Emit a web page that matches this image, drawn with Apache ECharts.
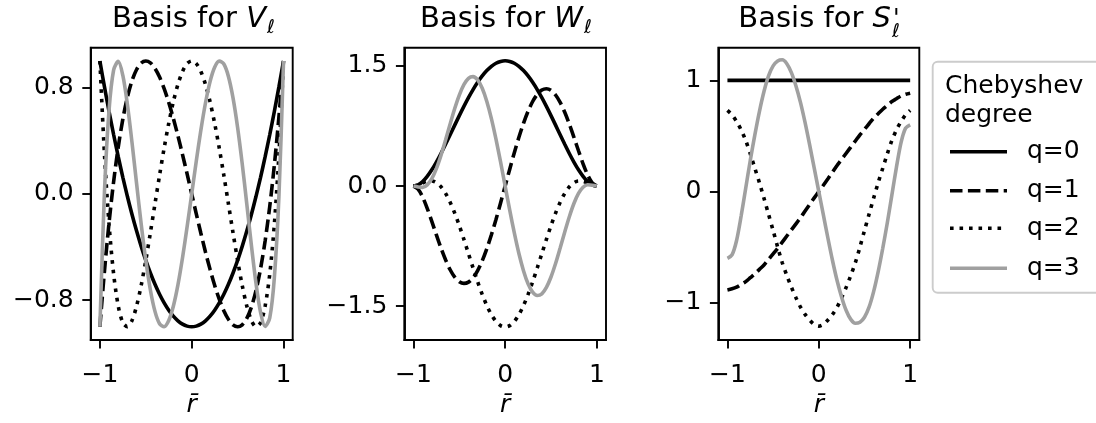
<!DOCTYPE html>
<html>
<head>
<meta charset="utf-8">
<script src="https://cdn.jsdelivr.net/npm/echarts@6/dist/echarts.min.js"></script>
<style>
  html, body { margin: 0; padding: 0; background: #fff; }
  #chart { width: 1096px; height: 423px; }
</style>
</head>
<body>
<div id="chart"></div>
<script>
// radial coordinate samples
const r = [-1, -0.95, -0.9, -0.85, -0.8, -0.75, -0.7, -0.65, -0.6, -0.55, -0.5, -0.45, -0.4, -0.35, -0.3, -0.25, -0.2, -0.15, -0.1, -0.05,
  0, 0.05, 0.1, 0.15, 0.2, 0.25, 0.3, 0.35, 0.4, 0.45, 0.5, 0.55, 0.6, 0.65, 0.7, 0.75, 0.8, 0.85, 0.9, 0.95, 1];

// Basis for V
const v0 = [1, 0.805, 0.62, 0.445, 0.28, 0.125, -0.02, -0.155, -0.28, -0.395, -0.5, -0.595, -0.68, -0.755, -0.82, -0.875, -0.92, -0.955, -0.98, -0.995,
  -1, -0.995, -0.98, -0.955, -0.92, -0.875, -0.82, -0.755, -0.68, -0.595, -0.5, -0.395, -0.28, -0.155, -0.02, 0.125, 0.28, 0.445, 0.62, 0.805, 1];
const v1 = [-1, -0.58, -0.216, 0.094, 0.352, 0.563, 0.728, 0.852, 0.936, 0.985, 1, 0.986, 0.944, 0.879, 0.792, 0.688, 0.568, 0.437, 0.296, 0.15,
  0, -0.15, -0.296, -0.437, -0.568, -0.688, -0.792, -0.879, -0.944, -0.986, -1, -0.985, -0.936, -0.852, -0.728, -0.563, -0.352, -0.094, 0.216, 0.58, 1];
const v2 = [1, 0.296, -0.231, -0.604, -0.843, -0.969, -0.999, -0.952, -0.843, -0.688, -0.5, -0.292, -0.075, 0.14, 0.345, 0.531, 0.693, 0.824, 0.921, 0.98,
  1, 0.98, 0.921, 0.824, 0.693, 0.531, 0.345, 0.14, -0.075, -0.292, -0.5, -0.688, -0.843, -0.952, -0.999, -0.969, -0.843, -0.604, -0.231, 0.296, 1];
const v3 = [-1, 0.017, 0.632, 0.933, 0.997, 0.891, 0.671, 0.386, 0.076, -0.228, -0.5, -0.723, -0.884, -0.977, -0.999, -0.953, -0.845, -0.684, -0.48, -0.248,
  0, 0.248, 0.48, 0.684, 0.845, 0.953, 0.999, 0.977, 0.884, 0.723, 0.5, 0.228, -0.076, -0.386, -0.671, -0.891, -0.997, -0.933, -0.632, -0.017, 1];

// Basis for W
const w0 = [0, 0.015, 0.056, 0.121, 0.203, 0.3, 0.407, 0.522, 0.641, 0.761, 0.88, 0.995, 1.104, 1.205, 1.296, 1.375, 1.442, 1.495, 1.534, 1.557,
  1.565, 1.557, 1.534, 1.495, 1.442, 1.375, 1.296, 1.205, 1.104, 0.995, 0.88, 0.761, 0.641, 0.522, 0.407, 0.3, 0.203, 0.121, 0.056, 0.015, 0];
const w1 = [0, -0.038, -0.138, -0.278, -0.441, -0.61, -0.774, -0.921, -1.045, -1.137, -1.195, -1.216, -1.2, -1.145, -1.056, -0.934, -0.783, -0.609, -0.417, -0.211,
  0, 0.211, 0.417, 0.609, 0.783, 0.934, 1.056, 1.145, 1.2, 1.216, 1.195, 1.137, 1.045, 0.921, 0.774, 0.61, 0.441, 0.278, 0.138, 0.038, 0];
const w2 = [0, 0.014, 0.039, 0.06, 0.064, 0.042, -0.009, -0.091, -0.202, -0.338, -0.495, -0.666, -0.845, -1.023, -1.195, -1.354, -1.492, -1.606, -1.691, -1.743,
  -1.76, -1.743, -1.691, -1.606, -1.492, -1.354, -1.195, -1.023, -0.845, -0.666, -0.495, -0.338, -0.202, -0.091, -0.009, 0.042, 0.064, 0.06, 0.039, 0.014, 0];
const w3 = [0, -0.011, -0.016, 0.015, 0.092, 0.218, 0.383, 0.574, 0.774, 0.968, 1.136, 1.266, 1.346, 1.367, 1.325, 1.221, 1.057, 0.843, 0.586, 0.301,
  0, -0.301, -0.586, -0.843, -1.057, -1.221, -1.325, -1.367, -1.346, -1.266, -1.136, -0.968, -0.774, -0.574, -0.383, -0.218, -0.092, -0.015, 0.016, 0.011, 0];

// Basis for S'
const s0 = [1, 1, 1, 1, 1, 1, 1, 1, 1, 1, 1, 1, 1, 1, 1, 1, 1, 1, 1, 1,
  1, 1, 1, 1, 1, 1, 1, 1, 1, 1, 1, 1, 1, 1, 1, 1, 1, 1, 1, 1, 1];
const s1 = [-0.885, -0.875, -0.86, -0.835, -0.81, -0.775, -0.74, -0.7, -0.66, -0.61, -0.56, -0.51, -0.455, -0.4, -0.345, -0.29, -0.235, -0.175, -0.115, -0.057,
  0, 0.057, 0.115, 0.175, 0.235, 0.29, 0.345, 0.4, 0.455, 0.51, 0.56, 0.61, 0.66, 0.7, 0.74, 0.775, 0.81, 0.835, 0.86, 0.875, 0.885];
const s2 = [0.73, 0.69, 0.63, 0.555, 0.46, 0.34, 0.21, 0.08, -0.06, -0.205, -0.35, -0.5, -0.64, -0.755, -0.86, -0.955, -1.04, -1.105, -1.155, -1.195,
  -1.21, -1.195, -1.155, -1.105, -1.04, -0.955, -0.86, -0.755, -0.64, -0.5, -0.35, -0.205, -0.06, 0.08, 0.21, 0.34, 0.46, 0.555, 0.63, 0.69, 0.73];
const s3 = [-0.6, -0.57, -0.44, -0.22, 0.03, 0.28, 0.51, 0.72, 0.9, 1.04, 1.13, 1.175, 1.185, 1.15, 1.07, 0.95, 0.8, 0.62, 0.42, 0.21,
  0, -0.21, -0.42, -0.62, -0.8, -0.95, -1.07, -1.15, -1.185, -1.175, -1.13, -1.04, -0.9, -0.72, -0.51, -0.28, -0.03, 0.22, 0.44, 0.57, 0.6];

const names = ["q=0", "q=1", "q=2", "q=3"];
const xTicks = [-1, 0, 1];
const yTicksV = [-0.8, 0, 0.8];
const yTicksW = [-1.5, 0, 1.5];
const yTicksS = [-1, 0, 1];

const FONT = "DejaVu Sans";
const lw = 3.6;
// q=0 solid, q=1 dashed, q=2 dotted, q=3 grey
const styles = [
  { color: "#000", width: lw, type: "solid" },
  { color: "#000", width: lw, type: [12.5, 5.4], cap: "butt" },
  { color: "#000", width: lw, type: [3.6, 5.9], cap: "butt" },
  { color: "#a0a0a0", width: lw, type: "solid" },
];

const minus = (s) => s.replace("-", "\u2212");

function xAxis(i) {
  return {
    gridIndex: i, type: "value", min: -1.1, max: 1.1,
    name: "r\u0304", nameLocation: "middle", nameGap: 50,
    nameTextStyle: { fontFamily: FONT, fontSize: 25, fontStyle: "italic", color: "#000" },
    axisLine: { show: true, onZero: false, lineStyle: { color: "#000", width: 1.9 } },
    axisTick: { show: true, length: 8.4, customValues: xTicks, lineStyle: { color: "#000", width: 1.9 } },
    axisLabel: { customValues: xTicks, margin: 23, fontFamily: FONT, fontSize: 25, color: "#000",
      formatter: (v) => minus(String(v)) },
    splitLine: { show: false },
  };
}
function yAxis(i, min, max, ticks, digits) {
  return {
    gridIndex: i, type: "value", min: min, max: max,
    axisLine: { show: true, onZero: false, lineStyle: { color: "#000", width: 1.9 } },
    axisTick: { show: true, length: 8.4, customValues: ticks, lineStyle: { color: "#000", width: 1.9 } },
    axisLabel: { customValues: ticks, margin: 17, fontFamily: FONT, fontSize: 25, color: "#000",
      formatter: (v) => minus(v.toFixed(digits)) },
    splitLine: { show: false },
  };
}

const panels = [[v0, v1, v2, v3], [w0, w1, w2, w3], [s0, s1, s2, s3]];
const series = [];
panels.forEach((set, p) => {
  set.forEach((vals, q) => {
    series.push({
      name: names[q], type: "line", xAxisIndex: p, yAxisIndex: p,
      data: r.map((x, k) => [x, vals[k]]),
      symbol: "none", smooth: 0.3, lineStyle: styles[q], itemStyle: { color: styles[q].color },
      animation: false,
    });
  });
});

const gridBox = { show: true, borderColor: "#000", borderWidth: 1.9, backgroundColor: "#fff", top: 47.7, height: 298 };

// title "Basis for X" right-aligned at the end of the symbol, then subscript ell
function titleText(xEnd, sym, subY) {
  return [
    { type: "text", x: xEnd, y: 19, z: 10,
      style: {
        text: "{a|Basis for }{v|" + sym + "}", align: "right", verticalAlign: "middle",
        rich: {
          a: { fontFamily: FONT, fontSize: 29, fill: "#000" },
          v: { fontFamily: FONT, fontSize: 29, fontStyle: "italic", fill: "#000" },
        },
      } },
    { type: "text", x: xEnd + 1, y: subY, z: 10,
      style: { text: "\u2113", fontFamily: FONT, fontSize: 19, fontStyle: "italic", fill: "#000", align: "left", verticalAlign: "middle" } },
  ];
}

// legend drawn by hand: box, title, line samples, labels
const legendRows = [151.7, 190.7, 228.3, 268.3];
const legendItems = [];
names.forEach((n, q) => {
  const st = styles[q];
  legendItems.push({
    type: "line", z: 10,
    shape: { x1: 950, y1: legendRows[q], x2: 1007, y2: legendRows[q] },
    style: { stroke: st.color, lineWidth: st.width, lineDash: Array.isArray(st.type) ? st.type : null, lineCap: "butt" },
  });
  legendItems.push({
    type: "text", x: 1027, y: legendRows[q], z: 10,
    style: { text: n, fontFamily: FONT, fontSize: 25, fill: "#000", align: "left", verticalAlign: "middle" },
  });
});

const chart = echarts.init(document.getElementById("chart"), null, { renderer: "canvas" });
chart.setOption({
  animation: false,
  backgroundColor: "#fff",
  grid: [
    Object.assign({ left: 90.7, width: 202 }, gridBox),
    Object.assign({ left: 404.3, width: 201.7 }, gridBox),
    Object.assign({ left: 718.3, width: 201 }, gridBox),
  ],
  xAxis: [xAxis(0), xAxis(1), xAxis(2)],
  yAxis: [
    yAxis(0, -1.1, 1.1, yTicksV, 1),
    yAxis(1, -1.924, 1.728, yTicksW, 1),
    yAxis(2, -1.336, 1.294, yTicksS, 0),
  ],
  series: series,
  graphic: [].concat(
    titleText(266, "V", 28),
    titleText(583, "W", 28),
    titleText(891, "S", 32),
    [
      { type: "text", x: 893, y: 20, z: 11,
        style: { text: "'", fontFamily: FONT, fontSize: 24, fontStyle: "italic", fill: "#000", align: "left", verticalAlign: "middle" } },
      { type: "rect", z: 5, shape: { x: 932.7, y: 61.7, width: 220, height: 231, r: 5 },
        style: { fill: "#fff", stroke: "#cccccc", lineWidth: 1.9 } },
      { type: "text", x: 945, y: 72.4, z: 10,
        style: { text: "Chebyshev\ndegree", fontFamily: FONT, fontSize: 25, lineHeight: 28.5, fill: "#000", align: "left", verticalAlign: "top" } },
    ],
    legendItems
  ),
});
</script>
</body>
</html>
